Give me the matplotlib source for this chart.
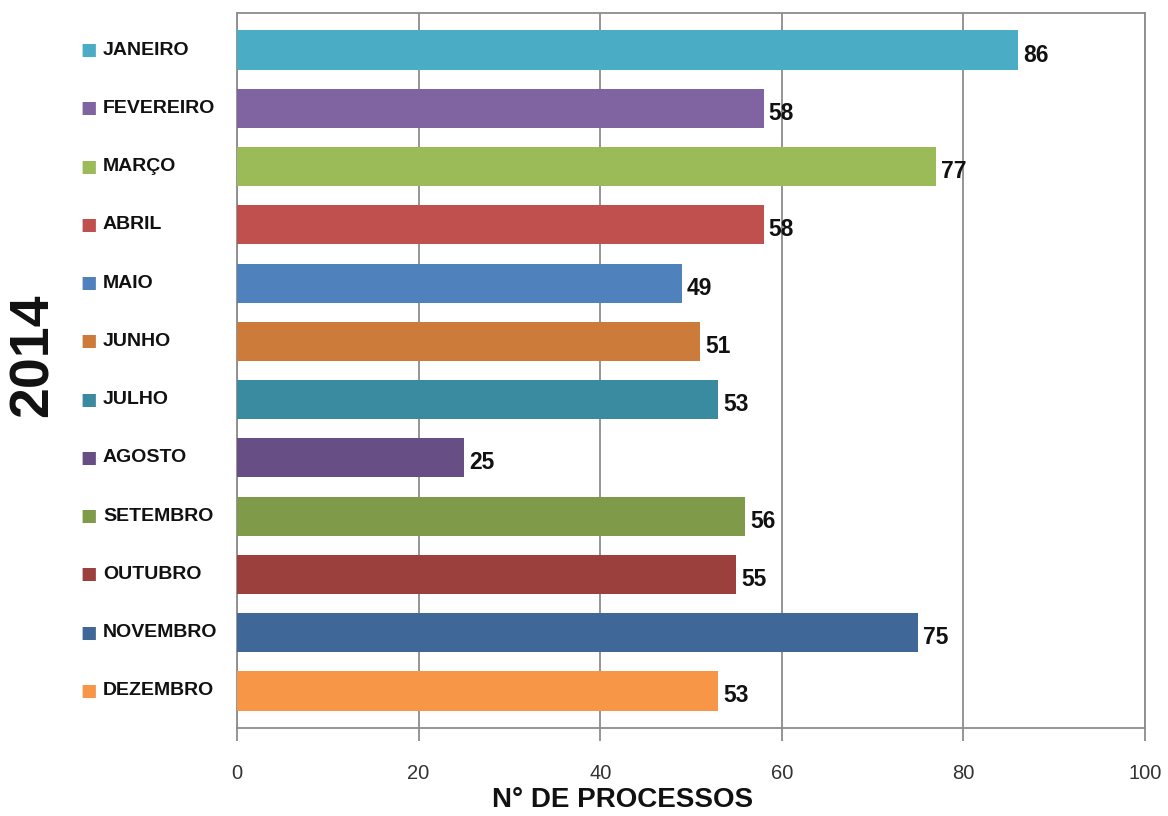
import matplotlib
matplotlib.use("Agg")
import matplotlib.pyplot as plt
from matplotlib.transforms import offset_copy

months = ["JANEIRO", "FEVEREIRO", "MARÇO", "ABRIL", "MAIO", "JUNHO", "JULHO",
          "AGOSTO", "SETEMBRO", "OUTUBRO", "NOVEMBRO", "DEZEMBRO"]
values = [86, 58, 77, 58, 49, 51, 53, 25, 56, 55, 75, 53]
colors = ["#4BACC6", "#8064A2", "#9BBB59", "#C0504D", "#4F81BD", "#CC7B3A",
          "#3A8AA0", "#674F86", "#7F9A48", "#9C403E", "#3F6898", "#F79646"]
xticks = [0, 20, 40, 60, 80, 100]

fam = ["Liberation Sans Narrow", "Liberation Sans", "DejaVu Sans"]

fig = plt.figure(figsize=(11.68, 8.16), dpi=100)
ax = fig.add_axes([237/1168, 1-728/816, (1145-237)/1168, (728-13)/816])

ypos = list(range(len(months)))
ax.barh(ypos, values, height=0.67, color=colors, zorder=3)
ax.set_ylim(len(months) - 1 + 0.635, -0.635)
ax.set_xlim(0, 100)
ax.set_xticks(xticks)
ax.set_xticklabels([str(t) for t in xticks], fontsize=14.5, color="#333333", family=fam)
ax.tick_params(axis="x", direction="out", length=9, width=1.3, color="#8c8c8c", pad=17)
ax.set_yticks([])
ax.grid(axis="x", color="#8c8c8c", linewidth=1.3, zorder=0)
for s in ax.spines.values():
    s.set_color("#8c8c8c")
    s.set_linewidth(1.3)

# value labels
for y, v in zip(ypos, values):
    tr = offset_copy(ax.transData, fig=fig, x=5, y=-5, units="dots")
    ax.text(v, y, str(v), transform=tr, ha="left", va="center",
            fontsize=16.5, fontweight="bold", family=fam, color="#111111")

# category labels with colour squares
for y, m, c in zip(ypos, months, colors):
    trm = ax.get_yaxis_transform()
    ax.text(-157/908, y, "\u25A0", transform=trm, ha="left", va="center",
            fontsize=12.5, color=c, family=["DejaVu Sans"], clip_on=False)
    ax.text(-134/908, y, m, transform=trm, ha="left", va="center",
            fontsize=14, fontweight="bold", family=fam, color="#111111", clip_on=False)

fig.text(623/1168, 1-800/816, "N° DE PROCESSOS", ha="center", va="center",
         fontsize=20, fontweight="bold", family=fam, color="#111111")
fig.text(34/1168, 1-355/816, "2014", ha="center", va="center", rotation=90,
         fontsize=40, fontweight="bold", family=["Liberation Sans", "DejaVu Sans"], color="#111111")

fig.savefig("out.png", dpi=100, facecolor="white")
